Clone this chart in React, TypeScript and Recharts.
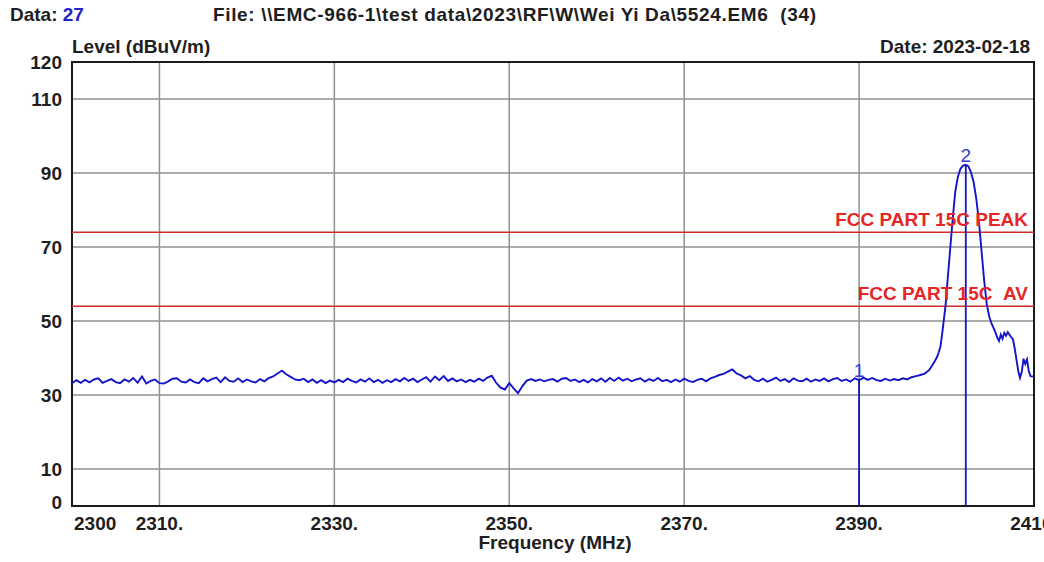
import React from 'react';
import {
  ComposedChart, Line, XAxis, YAxis, CartesianGrid, ReferenceLine, ReferenceArea, ReferenceDot,
} from 'recharts';

// ---- data ----
const X_TICKS = [2300, 2310, 2330, 2350, 2370, 2390, 2410];
const X_TICK_LABELS = ['2300', '2310.', '2330.', '2350.', '2370.', '2390.', '2410.'];
const Y_TICKS = [0, 10, 30, 50, 70, 90, 110, 120];

const LIMIT_PEAK = 74;
const LIMIT_AV = 54;
const LIMIT_PEAK_LABEL = 'FCC PART 15C PEAK';
const LIMIT_AV_LABEL = 'FCC PART 15C  AV';

const MARKERS = [
  { id: '1', freq: 2390, level: 34.0 },
  { id: '2', freq: 2402.2, level: 92.2 },
];

const sweep2300: [number, number][] = [
  [2300, 33.2], [2300.5, 34.0], [2301, 33.3], [2301.5, 34.1], [2302, 33.4], [2302.5, 34.2], [2303, 34.5],
  [2303.5, 33.3], [2304, 33.8], [2304.5, 34.3], [2305, 33.5], [2305.5, 33.2], [2306, 34.2], [2306.5, 33.6],
  [2307, 34.6], [2307.5, 33.3], [2308, 35.0], [2308.5, 33.1], [2309, 33.8], [2309.5, 34.2], [2310, 33.2],
  [2310.5, 33.1], [2311, 33.7], [2311.5, 34.4], [2312, 34.5], [2312.5, 33.6], [2313, 33.4], [2313.5, 34.2],
  [2314, 33.5], [2314.5, 33.2], [2315, 34.5], [2315.5, 33.7], [2316, 34.3], [2316.5, 34.7], [2317, 33.5],
  [2317.5, 34.8], [2318, 33.8], [2318.5, 33.6], [2319, 34.5], [2319.5, 33.5], [2320, 34.2],
  [2320.5, 33.7], [2321, 33.4], [2321.5, 34.3], [2322, 33.7], [2322.5, 34.6], [2323, 35.0], [2323.5, 35.8],
  [2324, 36.6], [2324.5, 35.6], [2325, 34.9], [2325.5, 34.2], [2326, 34.0], [2326.5, 34.4], [2327, 33.5],
  [2327.5, 34.2], [2328, 33.3], [2328.5, 34.0], [2329, 33.2], [2329.5, 33.9], [2330, 33.4],
];

const sweep2330: [number, number][] = [
  [2330.5, 34.1], [2331, 33.5], [2331.5, 34.4], [2332, 33.8], [2332.5, 33.4], [2333, 34.2], [2333.5, 33.6],
  [2334, 34.5], [2334.5, 33.5], [2335, 34.1], [2335.5, 33.3], [2336, 34.0], [2336.5, 33.5], [2337, 34.3],
  [2337.5, 33.7], [2338, 34.6], [2338.5, 33.8], [2339, 34.4], [2339.5, 33.5], [2340, 34.2], [2340.5, 34.8],
  [2341, 33.6], [2341.5, 35.0], [2342, 34.0], [2342.5, 35.1], [2343, 33.8], [2343.5, 34.5], [2344, 33.7],
  [2344.5, 34.2], [2345, 33.5], [2345.5, 34.1], [2346, 33.6], [2346.5, 34.4], [2347, 33.8], [2347.5, 34.7],
  [2348, 35.2], [2348.5, 33.3], [2349, 32.0], [2349.5, 31.5], [2350, 33.2], [2350.5, 31.8], [2351, 30.5],
  [2351.5, 32.4], [2352, 33.9], [2352.5, 34.3], [2353, 33.8], [2353.5, 34.2], [2354, 33.7], [2354.5, 34.1],
  [2355, 34.3], [2355.5, 33.6], [2356, 34.4], [2356.5, 34.6], [2357, 33.8], [2357.5, 34.2], [2358, 33.5],
  [2358.5, 34.1], [2359, 33.4], [2359.5, 34.3], [2360, 33.7],
];

const sweep2360: [number, number][] = [
  [2360.5, 34.5], [2361, 33.6], [2361.5, 34.6], [2362, 33.8], [2362.5, 34.7], [2363, 33.9], [2363.5, 34.4],
  [2364, 33.7], [2364.5, 34.2], [2365, 34.5], [2365.5, 33.6], [2366, 34.3], [2366.5, 33.8], [2367, 34.6],
  [2367.5, 33.7], [2368, 34.1], [2368.5, 33.5], [2369, 34.2], [2369.5, 33.6], [2370, 34.4], [2370.5, 33.8],
  [2371, 33.5], [2371.5, 34.1], [2372, 34.4], [2372.5, 33.7], [2373, 34.5], [2373.5, 34.9], [2374, 35.4],
  [2374.5, 35.7], [2375, 36.3], [2375.5, 36.9], [2376, 35.8], [2376.5, 35.3], [2377, 34.5], [2377.5, 35.1],
  [2378, 34.1], [2378.5, 33.7], [2379, 34.4], [2379.5, 33.6], [2380, 34.1], [2380.5, 34.7], [2381, 33.8],
  [2381.5, 34.3], [2382, 33.5], [2382.5, 34.5], [2383, 33.9], [2383.5, 33.7], [2384, 34.4], [2384.5, 33.6],
  [2385, 34.2], [2385.5, 33.8], [2386, 34.5], [2386.5, 33.7], [2387, 34.3], [2387.5, 34.6], [2388, 33.8],
  [2388.5, 34.2], [2389, 33.6], [2389.5, 34.5], [2390, 34.0], [2390.5, 34.7], [2391, 34.1], [2391.5, 34.6],
  [2392, 34.0], [2392.5, 33.8], [2393, 34.4], [2393.5, 33.9], [2394, 34.3], [2394.5, 34.0], [2395, 34.5],
  [2395.5, 34.2], [2396, 34.8],
];

const sweep2396: [number, number][] = [
  [2396.5, 35.1], [2397, 35.4], [2397.5, 35.8], [2398, 36.7], [2398.3, 37.8], [2398.6, 38.9], [2398.9, 40.2],
  [2399.1, 41.5], [2399.3, 43.0], [2399.5, 46.5], [2399.7, 50.5], [2399.9, 54.5], [2400.1, 60.5], [2400.4, 69.0],
  [2400.7, 77.5], [2401.0, 85.0], [2401.3, 89.0], [2401.6, 91.2], [2401.9, 92.0], [2402.2, 92.2], [2402.5, 91.8],
  [2402.8, 90.2], [2403.1, 87.5], [2403.4, 83.0], [2403.7, 77.0], [2404.0, 69.0], [2404.3, 61.0], [2404.6, 54.5],
  [2404.9, 51.0], [2405.2, 49.0], [2405.5, 47.5], [2405.8, 45.5], [2406.0, 44.6], [2406.2, 46.3], [2406.4, 45.2],
  [2406.6, 46.8], [2406.8, 46.0], [2407.0, 47.0], [2407.2, 46.3], [2407.4, 45.6], [2407.6, 45.0], [2407.8, 42.5],
  [2408.0, 39.5], [2408.2, 36.5], [2408.4, 34.6], [2408.6, 36.2], [2408.8, 39.8], [2409.0, 38.4], [2409.2, 39.6],
  [2409.4, 36.5], [2409.6, 35.1], [2410, 35.0],
];

const TITLE_DATA_LABEL = 'Data: ';
const TITLE_DATA_VALUE = '27';
const TITLE_FILE = 'File: \\\\EMC-966-1\\test data\\2023\\RF\\W\\Wei Yi Da\\5524.EM6  (34)';
const TITLE_DATE = 'Date: 2023-02-18';
const Y_TITLE = 'Level (dBuV/m)';
const X_TITLE = 'Frequency (MHz)';

const chartData = [...sweep2300, ...sweep2330, ...sweep2360, ...sweep2396].map(([f, l]) => ({ f, l }));

// ---- styles ----
const FONT = '"Liberation Sans", Arial, sans-serif';
const TEXT_COLOR = '#1e1e1e';
const TRACE = '#1414c8';
const MARK_TEXT = '#3a3ad6';
const LIMIT = '#d42a2a';
const LIMIT_TEXT = '#e62626';
const GRID = '#909090';

// keep double spaces visible in SVG text
const keepSpaces = (s: string) => s.replace(/  /g, ' \u00a0');

const XTick = (props: any) => {
  const { x, y, payload } = props;
  const idx = X_TICKS.indexOf(payload.value);
  const first = idx === 0;
  return (
    <text x={first ? x + 2 : x} y={y} dy={18} textAnchor={first ? 'start' : 'middle'}
      fontFamily={FONT} fontWeight="bold" fontSize={19} fill={TEXT_COLOR}>
      {X_TICK_LABELS[idx]}
    </text>
  );
};

const YTick = (props: any) => {
  const { x, y, payload } = props;
  return (
    <text x={x} y={y} dy={payload.value === 0 ? 3 : 7} textAnchor="end"
      fontFamily={FONT} fontWeight="bold" fontSize={19} fill={TEXT_COLOR}>
      {payload.value}
    </text>
  );
};

const limitLabelProps = (text: string) => ({
  value: keepSpaces(text), position: 'insideBottomRight' as const, fill: LIMIT_TEXT, fontSize: 19,
  fontWeight: 'bold', fontFamily: FONT, offset: 6,
});

export default function App() {
  return (
    <div style={{ position: 'absolute', left: 0, top: 0, width: 1044, height: 562, background: '#fff' }}>
      <ComposedChart width={1044} height={562} data={chartData}
        margin={{ top: 62, right: 10, left: 0, bottom: 0 }}>
        <CartesianGrid stroke={GRID} strokeWidth={1.5} />
        <XAxis dataKey="f" type="number" domain={[2300, 2410]} ticks={X_TICKS} interval={0}
          allowDataOverflow height={56} tick={<XTick />} tickLine={false} axisLine={false} tickMargin={0} />
        <YAxis type="number" domain={[0, 120]} ticks={Y_TICKS} interval={0} width={72}
          tick={<YTick />} tickLine={false} axisLine={false} tickMargin={4} />
        <ReferenceLine y={LIMIT_PEAK} stroke={LIMIT} strokeWidth={1.6} label={limitLabelProps(LIMIT_PEAK_LABEL)} />
        <ReferenceLine y={LIMIT_AV} stroke={LIMIT} strokeWidth={1.6} label={limitLabelProps(LIMIT_AV_LABEL)} />
        {MARKERS.map((m) => (
          <ReferenceLine key={'ml' + m.id} segment={[{ x: m.freq, y: 0 }, { x: m.freq, y: m.level }]}
            stroke={TRACE} strokeWidth={1.8} />
        ))}
        <Line dataKey="l" type="linear" stroke={TRACE} strokeWidth={1.9} dot={false} isAnimationActive={false} />
        {MARKERS.map((m) => (
          <ReferenceDot key={'md' + m.id} x={m.freq} y={m.level} r={0} stroke="none" fill="none"
            label={{ value: m.id, position: 'top', fill: MARK_TEXT, fontSize: 19, fontFamily: FONT, offset: 3 }} />
        ))}
        <ReferenceArea x1={2300} x2={2410} y1={0} y2={120} fill="none" stroke="#1a1a1a" strokeWidth={2} ifOverflow="visible" />
      </ComposedChart>
      <svg width={1044} height={562} style={{ position: 'absolute', left: 0, top: 0, pointerEvents: 'none' }}>
        <g fontFamily={FONT} fontWeight="bold" fontSize={19} fill={TEXT_COLOR}>
          <text x={10} y={21}>{TITLE_DATA_LABEL}<tspan fill="#2323c8">{TITLE_DATA_VALUE}</tspan></text>
          <text x={213} y={21} textLength={603} lengthAdjust="spacing">{keepSpaces(TITLE_FILE)}</text>
          <text x={72} y={53}>{Y_TITLE}</text>
          <text x={1030} y={53} textAnchor="end">{TITLE_DATE}</text>
          <text x={555} y={549} textAnchor="middle">{X_TITLE}</text>
        </g>
      </svg>
    </div>
  );
}
